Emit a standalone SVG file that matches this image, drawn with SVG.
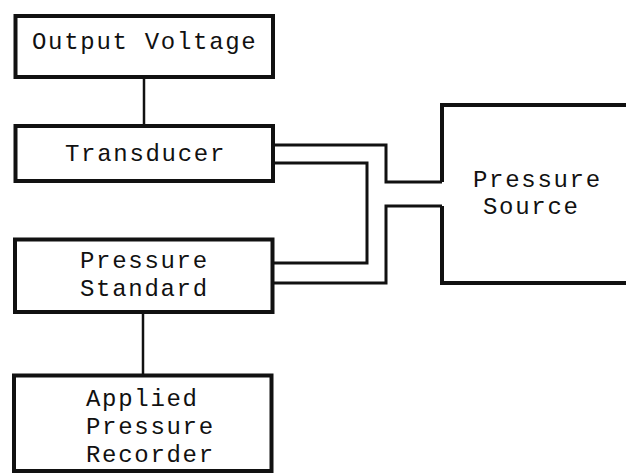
<svg xmlns="http://www.w3.org/2000/svg" width="626" height="476" viewBox="0 0 626 476">
<style>
.box{fill:#fff;stroke:#111;stroke-width:4}
.t{font-family:"Liberation Mono","Courier New",monospace;font-size:24px;letter-spacing:1.7px;fill:#111}
.c{fill:none;stroke:#111;stroke-width:2.5}
.p{fill:none;stroke:#111;stroke-width:3}
</style>
<rect width="626" height="476" fill="#fff"/>
<g id="connectors">
<line class="c" x1="144" y1="77" x2="144" y2="126"/>
<line class="c" x1="143" y1="312" x2="143" y2="375"/>
<path class="p" d="M273 145 H386 V182 H442"/>
<path class="p" d="M273 163 H367 V263 H273"/>
<path class="p" d="M273 283 H386 V206 H442"/>
</g>
<g id="output-voltage">
<rect class="box" x="15.5" y="16" width="257.5" height="61"/>
<text class="t" x="32" y="49">Output Voltage</text>
</g>
<g id="transducer">
<rect class="box" x="15.5" y="126" width="257.5" height="55"/>
<text class="t" x="65" y="161">Transducer</text>
</g>
<g id="pressure-standard">
<rect class="box" x="15" y="239.5" width="257.5" height="72.5"/>
<text class="t" x="80" y="268">Pressure</text>
<text class="t" x="80" y="296">Standard</text>
</g>
<g id="applied-pressure-recorder">
<rect class="box" x="14" y="375.5" width="257.5" height="95.5"/>
<text class="t" x="86" y="406">Applied</text>
<text class="t" x="86" y="434">Pressure</text>
<text class="t" x="86" y="462">Recorder</text>
</g>
<g id="pressure-source">
<path class="box" style="fill:none" d="M630 105 H442 V182 M442 206 V283 H630"/>
<text class="t" x="473" y="187">Pressure</text>
<text class="t" x="483" y="214">Source</text>
</g>
</svg>
